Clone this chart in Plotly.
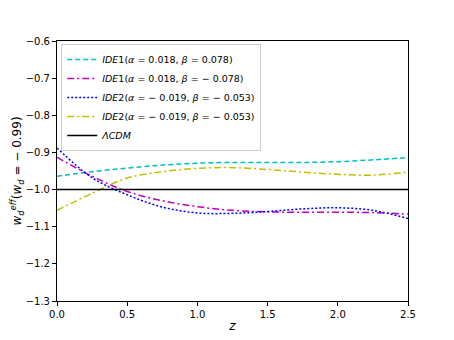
import plotly.graph_objects as go

# redshift grid and effective EoS values
z = [0.0, 0.25, 0.5, 0.75, 1.0, 1.25, 1.5, 1.75, 2.0, 2.25, 2.5]
ide1_pos = [-0.964, -0.952, -0.942, -0.934, -0.929, -0.927, -0.927, -0.927, -0.925, -0.920, -0.914]
ide1_neg = [-0.913, -0.964, -1.005, -1.030, -1.046, -1.056, -1.060, -1.061, -1.061, -1.062, -1.066]
ide2_a = [-0.888, -0.968, -1.014, -1.047, -1.063, -1.064, -1.059, -1.052, -1.049, -1.056, -1.078]
ide2_b = [-1.056, -1.010, -0.969, -0.952, -0.943, -0.941, -0.946, -0.953, -0.959, -0.961, -0.953]
lcdm = [-1.0] * len(z)

names = [
    "<i>IDE</i>1(<i>α</i> = 0.018, <i>β</i> = 0.078)",
    "<i>IDE</i>1(<i>α</i> = 0.018, <i>β</i> = − 0.078)",
    "<i>IDE</i>2(<i>α</i> = − 0.019, <i>β</i> = − 0.053)",
    "<i>IDE</i>2(<i>α</i> = − 0.019, <i>β</i> = − 0.053)",
    "<i>ΛCDM</i>",
]
series = [ide1_pos, ide1_neg, ide2_a, ide2_b, lcdm]
colors = ["#00bfbf", "#bf00bf", "#0000ff", "#bfbf00", "#000000"]
dashes = ["5px,3px", "7px,3px,2px,3px", "2px,2px", "7px,3px,2px,3px", "solid"]
shapes = ["spline", "spline", "spline", "spline", "linear"]

fig = go.Figure()
for y, n, c, d, s in zip(series, names, colors, dashes, shapes):
    fig.add_trace(go.Scatter(x=z, y=y, name=n, mode="lines",
                             line=dict(color=c, dash=d, width=1.5, shape=s)))

axis = dict(showline=True, linecolor="black", linewidth=1, mirror=True,
            ticks="outside", ticklen=4, tickcolor="black", showgrid=False,
            zeroline=False, automargin=False)
fig.update_xaxes(range=[0, 2.5], dtick=0.5, tickformat=".1f",
                 title=dict(text="<i>z</i>", standoff=2), **axis)
fig.update_yaxes(range=[-1.3, -0.6], dtick=0.1, tickformat=".1f",
                 title=dict(text="<i>w</i><sub><i>d</i></sub><sup><i>eff</i></sup>(<i>w</i><sub><i>d</i></sub> = − 0.99)",
                            standoff=4), **axis)

# the page body adds an 8px offset, so margins are shifted to compensate
fig.update_layout(
    width=454, height=340,
    margin=dict(l=49, r=54, t=33, b=47),
    plot_bgcolor="white", paper_bgcolor="white",
    font=dict(family="DejaVu Sans", size=10, color="black"),
    legend=dict(x=0.012, y=0.988, xanchor="left", yanchor="top",
                bgcolor="rgba(255,255,255,0.8)", bordercolor="#cccccc",
                borderwidth=1, font=dict(size=9.5), tracegroupgap=0,
                itemwidth=30),
    showlegend=True,
)

fig.write_html("out.html")
